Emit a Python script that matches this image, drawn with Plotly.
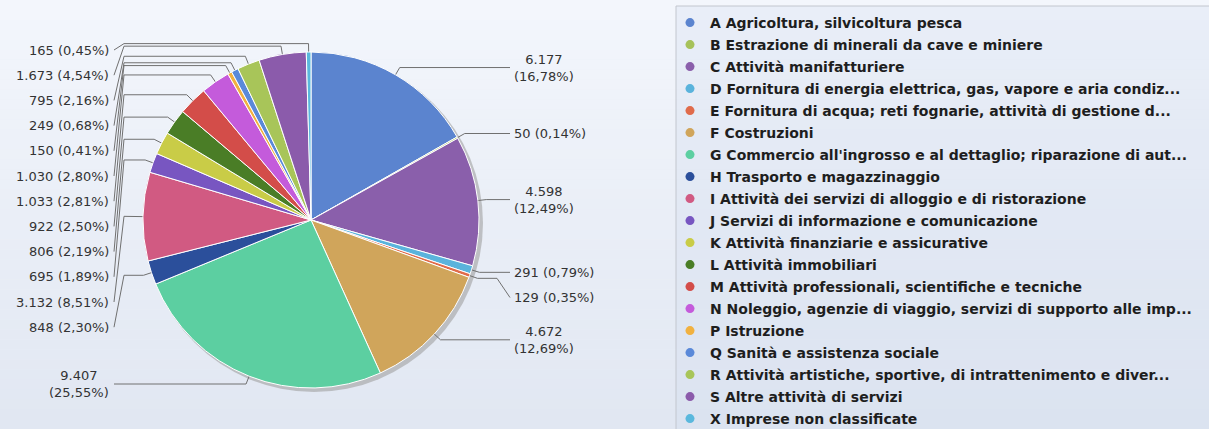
import math
import plotly.graph_objects as go

# ---------------- data ----------------
codes = ["A", "B", "C", "D", "E", "F", "G", "H", "I", "J", "K", "L", "M", "N", "P", "Q", "R", "S", "X"]
legend_labels = [
    "A Agricoltura, silvicoltura pesca",
    "B Estrazione di minerali da cave e miniere",
    "C Attività manifatturiere",
    "D Fornitura di energia elettrica, gas, vapore e aria condiz...",
    "E Fornitura di acqua; reti fognarie, attività di gestione d...",
    "F Costruzioni",
    "G Commercio all'ingrosso e al dettaglio; riparazione di aut...",
    "H Trasporto e magazzinaggio",
    "I Attività dei servizi di alloggio e di ristorazione",
    "J Servizi di informazione e comunicazione",
    "K Attività finanziarie e assicurative",
    "L Attività immobiliari",
    "M Attività professionali, scientifiche e tecniche",
    "N Noleggio, agenzie di viaggio, servizi di supporto alle imp...",
    "P Istruzione",
    "Q Sanità e assistenza sociale",
    "R Attività artistiche, sportive, di intrattenimento e diver...",
    "S Altre attività di servizi",
    "X Imprese non classificate",
]
values = [6177, 50, 4598, 291, 129, 4672, 9407, 848, 3132, 695, 806, 922, 1033, 1030, 150, 249, 795, 1673, 165]
colors = [
    "#5b84cf", "#a6c25a", "#8a5fab", "#5ab3dc", "#e06b4b", "#d0a55b", "#5ccfa1",
    "#2b4f9b", "#d15a82", "#7856c1", "#c9cc47", "#4a7d26", "#d34d49", "#c45bdb",
    "#f1b140", "#5a89d9", "#a8c559", "#8b5bab", "#5ab8dd",
]

# ---------------- layout constants ----------------
W, H = 1209, 429
CX, CY, R = 311, 220, 168
LEFT_TEXT_X, LEFT_LINE_X, LEFT_LINK_X = 111, 114, 124
RIGHT_TEXT_X, RIGHT_LINE_X, RIGHT_LINK_X = 512, 510, 497
GAP1, GAP2 = 12.6, 20.5  # half heights of one-/two-line labels
LABEL_TOP = 50


def fmt_int(v):
    return f"{v:,}".replace(",", ".")


def fmt_pct(p):
    return f"{p:.2f}".replace(".", ",")


total = sum(values)
items = []
cum = 0.0
for i, v in enumerate(values):
    pct = v / total * 100
    mid = (cum + v / 2) / total * 2 * math.pi
    cum += v
    s, c = math.sin(mid), math.cos(mid)
    two = pct >= 10
    text = f"{fmt_int(v)}<br>({fmt_pct(pct)}%)" if two else f"{fmt_int(v)} ({fmt_pct(pct)}%)"
    items.append(dict(
        i=i, text=text, half=GAP2 if two else GAP1,
        side="right" if s >= 0 else "left",
        anchor=(CX + 0.9 * R * s, CY - 0.9 * R * c),
        elbow=(CX + 1.05 * R * s, CY - 1.05 * R * c),
    ))

# distribute labels on each side (push down to avoid overlaps)
for side in ("left", "right"):
    grp = sorted([it for it in items if it["side"] == side], key=lambda d: d["elbow"][1])
    prev = None
    for it in grp:
        y = max(it["elbow"][1], LABEL_TOP)
        if prev is not None:
            y = max(y, prev["ly"] + prev["half"] + it["half"])
        it["ly"] = y
        prev = it

lx, ly = [], []
annotations = []
for it in items:
    ax, ay = it["anchor"]
    ex, ey = it["elbow"]
    if it["side"] == "left":
        pts = [(ax, ay), (ex, ey), (LEFT_LINK_X, ey), (LEFT_LINE_X, it["ly"])]
        annotations.append(dict(x=LEFT_TEXT_X, y=it["ly"], xref="x", yref="y", text=it["text"],
                                showarrow=False, xanchor="right", yanchor="middle", align="center"))
    else:
        pts = [(ax, ay), (ex, ey), (RIGHT_LINK_X, ey), (RIGHT_LINE_X, it["ly"])]
        annotations.append(dict(x=RIGHT_TEXT_X, y=it["ly"], xref="x", yref="y", text=it["text"],
                                showarrow=False, xanchor="left", yanchor="middle", align="center"))
    for p in pts:
        lx.append(p[0])
        ly.append(p[1])
    lx.append(None)
    ly.append(None)

fig = go.Figure()

fig.add_trace(go.Pie(
    labels=codes, values=values, sort=False, direction="clockwise", rotation=0,
    marker=dict(colors=colors, line=dict(color="white", width=1)),
    textinfo="none", showlegend=False, hoverinfo="label+value+percent",
    domain=dict(x=[(CX - R) / W, (CX + R) / W], y=[1 - (CY + R) / H, 1 - (CY - R) / H]),
))

fig.add_trace(go.Scatter(x=lx, y=ly, mode="lines", line=dict(color="#707070", width=1),
                         hoverinfo="skip", showlegend=False))

for code, lab, col in zip(codes, legend_labels, colors):
    fig.add_trace(go.Scatter(x=[None], y=[None], mode="markers", name=f"<b>{lab}</b>",
                             legendgroup=code, marker=dict(color=col, size=9),
                             showlegend=True))

# background gradient
shapes = []
N = 43
top, bot = (243, 246, 252), (225, 231, 242)
for k in range(N):
    t = k / (N - 1)
    col = tuple(round(top[j] + (bot[j] - top[j]) * t) for j in range(3))
    shapes.append(dict(type="rect", xref="paper", yref="paper", x0=0, x1=1,
                       y0=1 - (k + 1) / N, y1=1 - k / N, line=dict(width=0),
                       fillcolor=f"rgb{col}", layer="below"))
# pie shadow
shapes.append(dict(type="circle", xref="x", yref="y", x0=CX - R + 2, x1=CX + R + 4,
                   y0=CY - R + 2, y1=CY + R + 4, line=dict(width=0),
                   fillcolor="rgba(160,160,160,0.6)", layer="below"))
# legend frame
shapes.append(dict(type="rect", xref="x", yref="y", x0=676, x1=1240, y0=6, y1=445,
                   line=dict(color="#c2c6ce", width=1), fillcolor="rgba(205,216,234,0.25)",
                   layer="below"))

fig.update_layout(
    width=W, height=H,
    margin=dict(l=0, r=0, t=0, b=0, autoexpand=False),
    paper_bgcolor="rgb(234,238,246)", plot_bgcolor="rgba(0,0,0,0)",
    font=dict(family="DejaVu Sans", size=13, color="#333333"),
    xaxis=dict(range=[0, W], visible=False, fixedrange=True, domain=[0, 1]),
    yaxis=dict(range=[H, 0], visible=False, fixedrange=True, domain=[0, 1]),
    shapes=shapes, annotations=annotations,
    legend=dict(x=670 / W, xanchor="left", y=1 - 7 / H, yanchor="top",
                bgcolor="rgba(0,0,0,0)", borderwidth=0, tracegroupgap=0.8,
                font=dict(family="DejaVu Sans", size=14, color="#1e1e1e")),
    showlegend=True,
)

fig.write_html(
    "out.html",
    config={"displayModeBar": False},
    post_script="document.body.style.margin='0';document.body.style.overflow='hidden';",
)
